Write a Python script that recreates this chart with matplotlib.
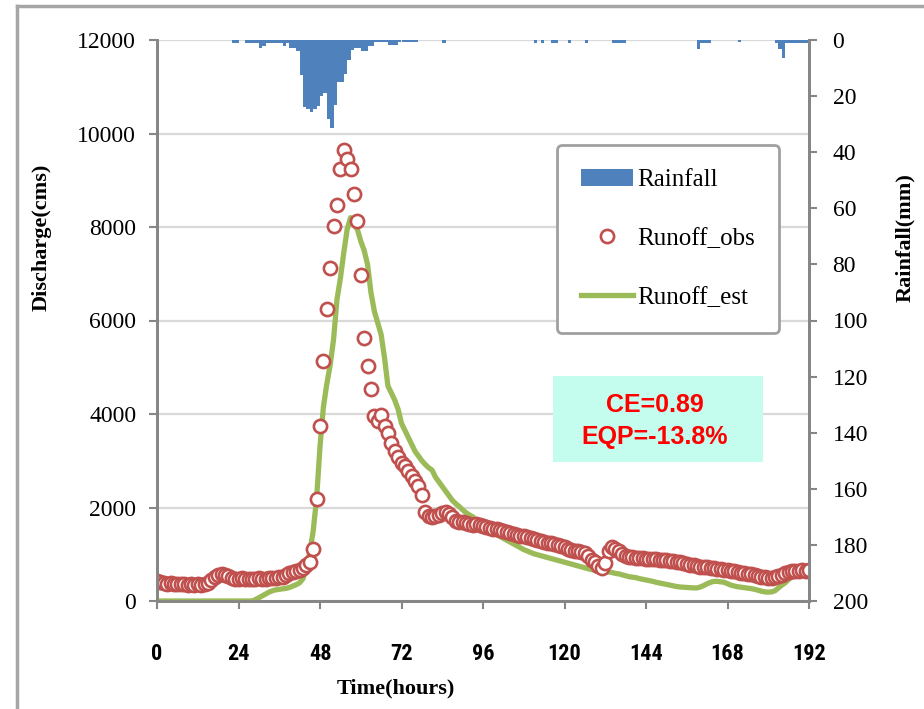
import matplotlib
matplotlib.use("Agg")
import matplotlib.pyplot as plt
from matplotlib import font_manager
from matplotlib.patches import Rectangle, Patch
from matplotlib.lines import Line2D
import numpy as np

# ---------------- data ----------------
obs_hours = list(range(0, 193))
runoff_obs = [
    420, 400, 380, 370, 380, 370, 360, 370, 360, 350,
    360, 350, 360, 350, 370, 380, 450, 520, 560, 580,
    560, 540, 500, 470, 480, 490, 470, 480, 470, 480,
    490, 470, 480, 490, 500, 490, 510, 520, 560, 590,
    620, 640, 660, 700, 760, 830, 1120, 2190, 3750, 5130,
    6240, 7120, 8020, 8470, 9230, 9650, 9450, 9230, 8700, 8130,
    6970, 5620, 5030, 4540, 3950, 3850, 3980, 3750, 3600, 3380,
    3200, 3080, 2950, 2880, 2780, 2680, 2560, 2450, 2270, 1900,
    1820, 1800, 1820, 1850, 1880, 1900, 1870, 1800, 1720, 1700,
    1680, 1660, 1650, 1630, 1640, 1620, 1600, 1580, 1560, 1550,
    1530, 1510, 1490, 1480, 1460, 1440, 1420, 1400, 1380, 1360,
    1340, 1320, 1300, 1290, 1270, 1250, 1230, 1210, 1190, 1170,
    1150, 1120, 1100, 1080, 1060, 1040, 1020, 960, 880, 830,
    740, 700, 820, 1080, 1160, 1120, 1060, 1000, 970, 950,
    940, 930, 920, 910, 900, 900, 890, 890, 880, 880,
    870, 860, 850, 840, 830, 820, 800, 780, 760, 740,
    730, 720, 720, 710, 700, 690, 680, 670, 660, 650,
    640, 620, 600, 590, 580, 570, 560, 540, 520, 510,
    500, 500, 510, 540, 560, 590, 620, 640, 650, 650,
    660, 650, 660,
]

est_hours = list(range(0, 189))
runoff_est = [
    0, 0, 0, 0, 0, 0, 0, 0, 0, 0,
    0, 0, 0, 0, 0, 0, 0, 0, 0, 0,
    0, 0, 0, 0, 0, 0, 0, 0, 0, 30,
    70, 110, 150, 190, 220, 240, 250, 260, 270, 290,
    320, 350, 390, 480, 700, 1050, 1500, 2200, 3300, 4150,
    4640, 5050, 5600, 6450, 6900, 7450, 7950, 8200, 8050, 7950,
    7700, 7500, 7200, 6600, 6200, 5950, 5700, 5200, 4600, 4450,
    4300, 4100, 3800, 3650, 3500, 3350, 3200, 3100, 3000, 2920,
    2850, 2800, 2650, 2550, 2450, 2350, 2250, 2150, 2080, 2020,
    1950, 1890, 1840, 1800, 1720, 1660, 1600, 1550, 1500, 1460,
    1420, 1380, 1340, 1300, 1260, 1220, 1180, 1140, 1100, 1070,
    1040, 1010, 990, 970, 950, 930, 910, 890, 870, 850,
    830, 810, 790, 770, 750, 730, 710, 690, 670, 660,
    650, 640, 630, 620, 610, 590, 580, 560, 540, 520,
    510, 500, 480, 465, 450, 435, 420, 400, 385, 370,
    355, 340, 325, 310, 300, 295, 290, 285, 280, 280,
    300, 330, 370, 400, 420, 420, 410, 400, 370, 340,
    320, 305, 295, 285, 275, 265, 250, 230, 210, 195,
    190, 195, 220, 280, 340, 390, 460, 530, 590,
]

rain_hours = [22, 23, 26, 27, 28, 29, 30, 31, 32, 33, 34, 35, 36, 37, 38, 39,
              40, 41, 42, 43, 44, 45, 46, 47, 48, 49, 50, 51, 52, 53, 54, 55,
              56, 57, 58, 59, 60, 61, 62, 63, 64, 65, 66, 67, 68, 69, 70, 71,
              72, 73, 74, 75, 76, 84, 111, 113, 116, 117, 121, 126, 134, 135,
              136, 137, 159, 160, 161, 162, 171, 182, 183, 184, 185, 186, 187,
              188, 189, 190, 191]
rain_mm = [1, 1, 1, 1, 1, 1, 3, 2, 1, 1, 1, 1, 1, 2, 1, 3,
           3, 4, 12.5, 24, 24.5, 25.5, 24.5, 23.5, 20, 19, 28, 31.5, 23, 15, 15, 12,
           7, 3.6, 3, 3, 4, 4, 2, 2, 0.6, 0.6, 0.6, 0.6, 1.8, 1.8, 1.8, 0.6,
           0.6, 0.6, 0.6, 0.6, 0.6, 1, 1, 1, 1, 1, 1, 1, 1, 1,
           1, 1, 3.3, 1, 1, 1, 0.8, 1, 3.3, 6.5, 1, 1, 1,
           1, 1, 1, 1]

left_ticks = [0, 2000, 4000, 6000, 8000, 10000, 12000]
right_ticks = [0, 20, 40, 60, 80, 100, 120, 140, 160, 180, 200]
x_ticks = [0, 24, 48, 72, 96, 120, 144, 168, 192]

# ---------------- fonts ----------------
available = {f.name for f in font_manager.fontManager.ttflist}
serif = "Liberation Serif"
narrow = None
for cand in ["Liberation Sans Narrow", "DejaVu Sans Condensed", "Roboto Condensed",
             "Open Sans Condensed"]:
    if cand in available:
        narrow = cand
        break
if narrow is None:
    narrow = "Liberation Serif"

# ---------------- figure ----------------
W, H = 924, 709
fig = plt.figure(figsize=(W / 100, H / 100), dpi=100)
fig.patch.set_facecolor("white")

L, R, T, B = 157, 809, 40, 601
ax = fig.add_axes([L / W, 1 - B / H, (R - L) / W, (B - T) / H])
ax2 = ax.twinx()

spine_c = "#868686"
grid_c = "#d9d9d9"

# estimated line and observed markers
ax.plot(est_hours, runoff_est, color="#9bbb59", lw=3.8, solid_capstyle="butt", zorder=3)
ax.plot(obs_hours, runoff_obs, linestyle="none", marker="o", ms=9.5, mfc="white",
        mec="#c0504d", mew=1.9, zorder=4)

ax.set_xlim(0, 192)
ax.set_ylim(0, 12000)
ax.set_yticks(left_ticks)
ax.set_xticks(x_ticks)
ax.yaxis.grid(True, color=grid_c, lw=1.6)
ax.set_axisbelow(True)

# rainfall bars
ax2.bar(rain_hours, rain_mm, width=1.0, align="edge", color="#4f81bd", lw=0, zorder=2)
ax2.set_ylim(200, 0)
ax2.set_yticks(right_ticks)

for a in (ax, ax2):
    a.spines["top"].set_visible(False)
    for s in ("left", "right", "bottom"):
        a.spines[s].set_color(spine_c)
        a.spines[s].set_linewidth(2)

ax.tick_params(axis="y", direction="out", length=6, width=1.5, color=spine_c,
               pad=9, labelsize=17)
ax.tick_params(axis="x", direction="out", length=6, width=1.5, color=spine_c,
               pad=24)
ax2.tick_params(axis="y", direction="out", length=6, width=1.5, color=spine_c,
                pad=11, labelsize=17)

for lab in ax.get_yticklabels() + ax2.get_yticklabels():
    lab.set_fontfamily(serif)
ax.set_xticklabels([str(v) for v in x_ticks], fontfamily=narrow, fontsize=16,
                   fontweight="bold")

ax.set_ylabel("Discharge(cms)", fontfamily=serif, fontsize=16, fontweight="bold")
ax.yaxis.set_label_coords((42 - L) / (R - L), (B - 237) / (B - T))
ax.yaxis.label.set_va("center")
ax2.set_ylabel("Rainfall(mm)", fontfamily=serif, fontsize=16, fontweight="bold",
               rotation=90)
ax2.yaxis.set_label_coords((905 - L) / (R - L), (B - 238) / (B - T))
ax2.yaxis.label.set_va("center")
ax.set_xlabel("Time(hours)", fontfamily=serif, fontsize=16, fontweight="bold")
ax.xaxis.set_label_coords((396 - L) / (R - L), (B - 688) / (B - T))
ax.xaxis.label.set_va("center")

# legend
handles = [
    Patch(facecolor="#4f81bd", edgecolor="none"),
    Line2D([], [], linestyle="none", marker="o", ms=9.5, mfc="white",
           mec="#c0504d", mew=1.9),
    Line2D([], [], color="#9bbb59", lw=3.8),
]
leg = ax2.legend(handles, ["Rainfall", "Runoff_obs", "Runoff_est"],
                 loc="upper left",
                 bbox_to_anchor=((557 - L) / (R - L), (B - 145) / (B - T)),
                 borderaxespad=0, prop={"family": serif, "size": 18},
                 handlelength=2.1, handletextpad=0.15, borderpad=0.95,
                 labelspacing=1.45, numpoints=1, fancybox=True,
                 framealpha=1, edgecolor="#a0a0a0")
leg.get_frame().set_linewidth(2)
leg.set_zorder(10)

# CE / EQP box
x0, x1 = (553 - L) / (R - L), (763 - L) / (R - L)
y0, y1 = (B - 462) / (B - T), (B - 376) / (B - T)
ax2.add_patch(Rectangle((x0, y0), x1 - x0, y1 - y0, transform=ax2.transAxes,
                        facecolor="#c4fcee", edgecolor="none", zorder=9))
cx = (655 - L) / (R - L)
ax2.text(cx, (B - 405) / (B - T), "CE=0.89", transform=ax2.transAxes,
         ha="center", va="center", color="#ff0000", fontsize=18,
         fontweight="bold", fontfamily="Liberation Sans", zorder=11)
ax2.text(cx, (B - 437) / (B - T), "EQP=-13.8%", transform=ax2.transAxes,
         ha="center", va="center", color="#ff0000", fontsize=18,
         fontweight="bold", fontfamily="Liberation Sans", zorder=11)

# outer frame of the picture
fx = 17 / W
fy = 1 - 6 / H
fig.add_artist(Line2D([fx, 1.0], [fy, fy], transform=fig.transFigure,
                      color="#a6a6a6", lw=2.5))
fig.add_artist(Line2D([fx, fx], [fy, 0.0], transform=fig.transFigure,
                      color="#a6a6a6", lw=2.5))

fig.savefig("out.png", dpi=100)
